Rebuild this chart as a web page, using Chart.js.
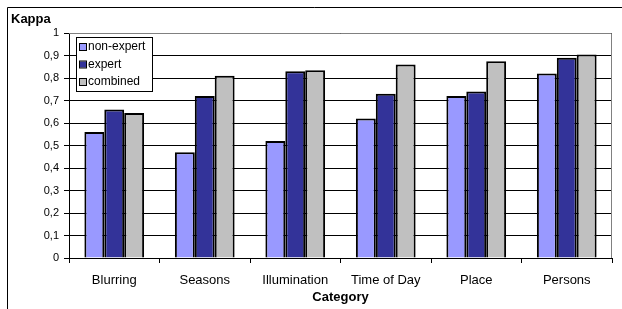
<!DOCTYPE html>
<html>
<head>
<meta charset="utf-8">
<script src="https://cdn.jsdelivr.net/npm/chart.js@4"></script>
<style>
  html, body { margin: 0; padding: 0; background: #fff; }
  #wrap { position: relative; width: 622px; height: 309px; }
</style>
</head>
<body>
<div id="wrap"><canvas id="kappaChart" width="622" height="309"></canvas></div>
<script>
const categories = ['Blurring', 'Seasons', 'Illumination', 'Time of Day', 'Place', 'Persons'];
const nonExpert = [0.56, 0.47, 0.52, 0.62, 0.72, 0.82];
const expert = [0.66, 0.72, 0.83, 0.73, 0.74, 0.89];
const combined = [0.645, 0.81, 0.835, 0.86, 0.875, 0.905];
const seriesNames = ['non-expert', 'expert', 'combined'];
const seriesColors = ['#9999FF', '#333399', '#C0C0C0'];

const FONT = '"Liberation Sans", Arial, sans-serif';

// frame, axis title, plot border and the legend box drawn inside the plot
const decorations = {
  id: 'decorations',
  beforeDraw(chart) {
    const ctx = chart.ctx;
    ctx.save();
    ctx.strokeStyle = '#000';
    ctx.lineWidth = 1;
    ctx.beginPath();
    ctx.moveTo(7.5, 309);
    ctx.lineTo(7.5, 7.5);
    ctx.lineTo(622, 7.5);
    ctx.stroke();
    ctx.restore();
  },
  afterDraw(chart) {
    const ctx = chart.ctx;
    const a = chart.chartArea;
    ctx.save();
    // gray top and right border of the plot
    ctx.strokeStyle = '#808080';
    ctx.lineWidth = 1;
    ctx.beginPath();
    ctx.moveTo(a.left, a.top + 0.5);
    ctx.lineTo(a.right - 0.5, a.top + 0.5);
    ctx.lineTo(a.right - 0.5, a.bottom);
    ctx.stroke();

    ctx.fillStyle = '#000';
    ctx.font = 'bold 13px ' + FONT;
    ctx.textBaseline = 'middle';
    ctx.textAlign = 'left';
    ctx.fillText('Kappa', 11, 19);

    // legend
    const lx = 76, ly = 37, lw = 76, lh = 54;
    ctx.fillStyle = '#fff';
    ctx.fillRect(lx, ly, lw, lh);
    ctx.strokeStyle = '#000';
    ctx.strokeRect(lx + 0.5, ly + 0.5, lw, lh);
    ctx.font = '12px ' + FONT;
    chart.data.datasets.forEach((ds, i) => {
      const y = 47 + i * 17.5;
      ctx.fillStyle = ds.backgroundColor;
      ctx.fillRect(80, y - 3, 6, 6);
      ctx.strokeStyle = '#000';
      ctx.strokeRect(79.5, y - 3.5, 7, 7);
      ctx.fillStyle = '#000';
      ctx.fillText(ds.label, 88, y);
    });
    ctx.restore();
  }
};

const datasets = [nonExpert, expert, combined].map((values, i) => ({
  label: seriesNames[i],
  data: values,
  backgroundColor: seriesColors[i],
  borderColor: '#000',
  borderWidth: 2,
  borderSkipped: 'bottom',
  categoryPercentage: 0.66,
  barPercentage: 1.0,
}));

const ctx = document.getElementById('kappaChart').getContext('2d');
const chart = new Chart(ctx, {
  type: 'bar',
  data: { labels: categories, datasets: datasets },
  options: {
    responsive: false,
    animation: false,
    layout: { padding: { top: 33, right: 10, left: 0, bottom: 0 } },
    plugins: {
      legend: { display: false },
      tooltip: { enabled: false },
    },
    scales: {
      x: {
        grid: { drawOnChartArea: false, drawTicks: true, tickLength: 5, color: '#000', offset: true },
        border: { color: '#000', width: 1 },
        ticks: { color: '#000', font: { family: FONT, size: 13 }, padding: 10, maxRotation: 0 },
        title: { display: true, text: 'Category', color: '#000', font: { family: FONT, size: 13, weight: 'bold' }, padding: { top: 0, bottom: 4 } },
        afterFit(scale) { scale.height = 51; },
      },
      y: {
        min: 0,
        max: 1,
        ticks: {
          stepSize: 0.1,
          color: '#000',
          font: { family: FONT, size: 11 },
          padding: 5,
          callback: (v) => (Math.round(v * 10) / 10).toString().replace('.', ','),
        },
        grid: { color: '#000', tickLength: 5, drawTicks: true },
        border: { color: '#000', width: 1 },
        afterFit(scale) { scale.width = 69; },
      },
    },
  },
  plugins: [decorations],
});
</script>
</body>
</html>
